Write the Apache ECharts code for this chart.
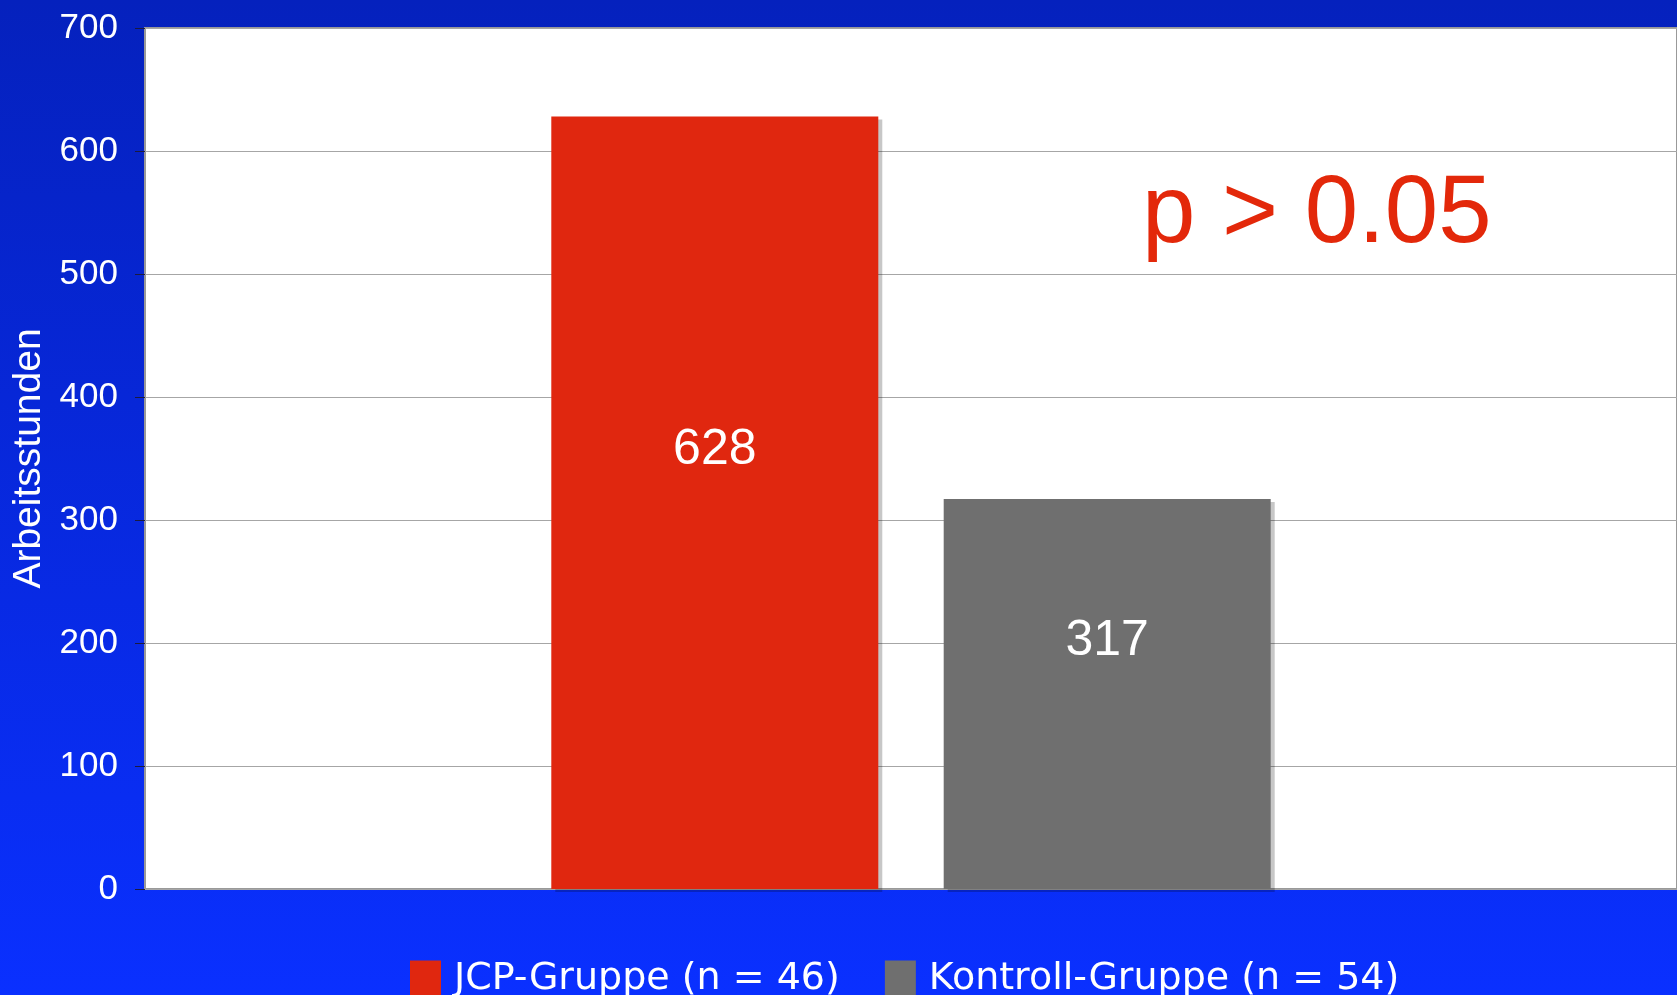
<!DOCTYPE html>
<html>
<head>
<meta charset="utf-8">
<script src="https://cdn.jsdelivr.net/npm/echarts@6/dist/echarts.min.js"></script>
<style>
  html, body { margin: 0; padding: 0; }
  #chart { width: 1677px; height: 995px; }
</style>
</head>
<body>
<div id="chart"></div>
<script>
// Daten
var categories = ['Arbeitsstunden'];
var seriesNames = ['JCP-Gruppe (n = 46)', 'Kontroll-Gruppe (n = 54)'];
var jcpValues = [628];
var kontrollValues = [317];
var yTicks = [0, 100, 200, 300, 400, 500, 600, 700];
var pText = 'p > 0.05';

var sans = '"Liberation Sans", Arial, sans-serif';

var myChart = echarts.init(document.getElementById('chart'));

function barSeries(name, data, color) {
    return {
        name: name,
        type: 'bar',
        data: data,
        barWidth: 327,
        barGap: '20%',
        itemStyle: {
            color: color,
            shadowColor: 'rgba(0,0,0,0.22)',
            shadowOffsetX: 4,
            shadowOffsetY: 3,
            shadowBlur: 0
        },
        label: {
            show: true,
            position: 'inside',
            offset: [0, -53],
            color: '#fff',
            fontFamily: sans,
            fontSize: 50
        }
    };
}

var option = {
    animation: false,
    backgroundColor: new echarts.graphic.LinearGradient(0, 0, 0, 1, [
        { offset: 0, color: '#0521bd' },
        { offset: 1, color: '#0a30ff' }
    ]),
    grid: {
        show: true,
        left: 145,
        top: 28,
        right: 0,
        bottom: 106,
        outerBoundsMode: 'none',
        containLabel: false,
        backgroundColor: '#fff',
        borderColor: '#999',
        borderWidth: 2
    },
    legend: {
        data: seriesNames,
        left: 405,
        top: 955,
        itemWidth: 31,
        itemHeight: 37,
        itemGap: 45,
        icon: 'rect',
        textStyle: {
            color: '#fff',
            fontFamily: '"DejaVu Sans", Verdana, sans-serif',
            fontSize: 38,
            padding: [0, 0, 0, 8]
        }
    },
    xAxis: {
        type: 'category',
        data: categories,
        axisLine: { show: false },
        axisTick: { show: false },
        axisLabel: { show: false }
    },
    yAxis: {
        type: 'value',
        min: yTicks[0],
        max: yTicks[yTicks.length - 1],
        interval: 100,
        name: 'Arbeitsstunden',
        nameLocation: 'middle',
        nameRotate: 90,
        nameGap: 89,
        nameTextStyle: {
            color: '#fff',
            fontFamily: sans,
            fontSize: 39
        },
        axisLine: { show: false },
        axisTick: {
            show: true,
            length: 10,
            lineStyle: { color: '#1a1a40', width: 1 }
        },
        axisLabel: {
            color: '#fff',
            fontFamily: sans,
            fontSize: 35,
            margin: 27
        },
        splitLine: {
            lineStyle: { color: '#a6a6a6', width: 1 }
        }
    },
    graphic: [
        {
            type: 'text',
            left: 1142,
            top: 168,
            z: 100,
            style: {
                text: pText,
                fill: '#e3280a',
                font: '96px "Liberation Sans", Arial, sans-serif'
            }
        }
    ],
    series: [
        barSeries(seriesNames[0], jcpValues, '#e0270f'),
        barSeries(seriesNames[1], kontrollValues, '#6f6f6f')
    ]
};

myChart.setOption(option);
</script>
</body>
</html>
